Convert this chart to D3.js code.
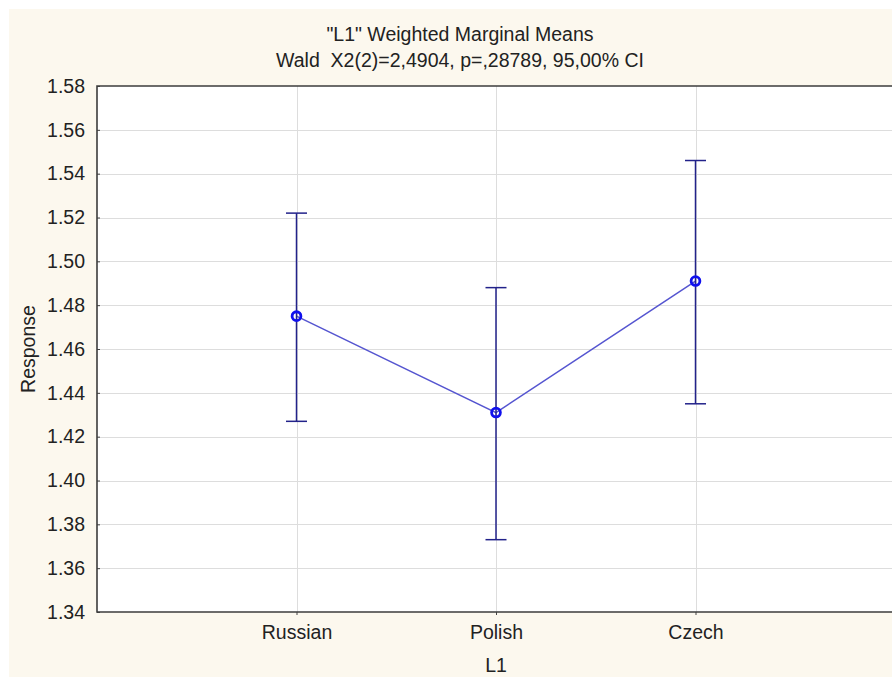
<!DOCTYPE html>
<html>
<head>
<meta charset="utf-8">
<script src="https://cdn.jsdelivr.net/npm/d3@7"></script>
<style>
  html, body { margin: 0; padding: 0; background: #ffffff; }
  svg { display: block; }
  text { font-family: "Liberation Sans", Arial, sans-serif; fill: #222; white-space: pre; }
</style>
</head>
<body>
<svg id="chart" width="892" height="677"></svg>
<script>
// Weighted marginal means of Response by L1, with 95% confidence limits
const categories = ["Russian", "Polish", "Czech"];
const means = [1.475, 1.431, 1.491];
const upperCI = [1.522, 1.488, 1.546];
const lowerCI = [1.427, 1.373, 1.435];
const yTicks = [1.34, 1.36, 1.38, 1.40, 1.42, 1.44, 1.46, 1.48, 1.50, 1.52, 1.54, 1.56, 1.58];

const titleText = "\"L1\" Weighted Marginal Means";
const subtitleText = "Wald  X2(2)=2,4904, p=,28789, 95,00% CI";
const xTitle = "L1";
const yTitle = "Response";

const W = 892, H = 677;
const plot = { left: 97, right: 895, top: 86, bottom: 612 };
const fontSize = 19.5;

const svg = d3.select("#chart");

// page background panel
svg.append("rect")
  .attr("x", 9).attr("y", 9)
  .attr("width", W - 9).attr("height", H - 9)
  .attr("fill", "#fcf8ee");

// plot area
svg.append("rect")
  .attr("x", plot.left).attr("y", plot.top)
  .attr("width", plot.right - plot.left).attr("height", plot.bottom - plot.top)
  .attr("fill", "#ffffff");

const x = d3.scalePoint()
  .domain(categories)
  .range([plot.left, plot.right])
  .padding(1);

const y = d3.scaleLinear()
  .domain([yTicks[0], yTicks[yTicks.length - 1]])
  .range([plot.bottom, plot.top]);

// grid lines
const grid = svg.append("g").attr("stroke", "#dddddd").attr("stroke-width", 1);
grid.selectAll("line.h")
  .data(yTicks.slice(1, -1))
  .join("line")
  .attr("class", "h")
  .attr("x1", plot.left).attr("x2", plot.right)
  .attr("y1", d => Math.round(y(d)) + 0.5).attr("y2", d => Math.round(y(d)) + 0.5);
grid.selectAll("line.v")
  .data(categories)
  .join("line")
  .attr("class", "v")
  .attr("y1", plot.top).attr("y2", plot.bottom)
  .attr("x1", d => Math.round(x(d)) + 0.5).attr("x2", d => Math.round(x(d)) + 0.5);

// axes
const yAxis = d3.axisLeft(y)
  .tickValues(yTicks)
  .tickFormat(d3.format(".2f"))
  .tickSize(-3)
  .tickPadding(12);
const gy = svg.append("g")
  .attr("transform", `translate(${plot.left},0)`)
  .call(yAxis);
gy.select(".domain").remove();
gy.selectAll(".tick line").attr("stroke", "#444");
gy.selectAll(".tick text")
  .attr("font-size", fontSize)
  .attr("font-family", "Liberation Sans, Arial, sans-serif")
  .attr("fill", "#222");

const xAxis = d3.axisBottom(x)
  .tickSize(3)
  .tickPadding(10);
const gx = svg.append("g")
  .attr("transform", `translate(0,${plot.bottom})`)
  .call(xAxis);
gx.select(".domain").remove();
gx.selectAll(".tick line").attr("stroke", "#444");
gx.selectAll(".tick text")
  .attr("font-size", fontSize)
  .attr("font-family", "Liberation Sans, Arial, sans-serif")
  .attr("fill", "#222");

// frame: left, top, bottom
svg.append("path")
  .attr("d", `M${plot.right},${plot.top}H${plot.left}V${plot.bottom}H${plot.right}`)
  .attr("fill", "none")
  .attr("stroke", "#3c3c3c")
  .attr("stroke-width", 1.6);

// connecting line between means
const points = categories.map((c, i) => ({ c, m: means[i], lo: lowerCI[i], hi: upperCI[i] }));
svg.append("path")
  .datum(points)
  .attr("d", d3.line().x(d => x(d.c)).y(d => y(d.m)))
  .attr("fill", "none")
  .attr("stroke", "#5555d0")
  .attr("stroke-width", 1.5);

// error bars
const eb = svg.append("g").attr("stroke", "#22228a").attr("stroke-width", 1.5).attr("fill", "none");
const capHalf = 10.5;
eb.selectAll("line.stem").data(points).join("line")
  .attr("class", "stem")
  .attr("x1", d => x(d.c)).attr("x2", d => x(d.c))
  .attr("y1", d => y(d.hi)).attr("y2", d => y(d.lo));
eb.selectAll("line.capHi").data(points).join("line")
  .attr("class", "capHi")
  .attr("x1", d => x(d.c) - capHalf).attr("x2", d => x(d.c) + capHalf)
  .attr("y1", d => y(d.hi)).attr("y2", d => y(d.hi));
eb.selectAll("line.capLo").data(points).join("line")
  .attr("class", "capLo")
  .attr("x1", d => x(d.c) - capHalf).attr("x2", d => x(d.c) + capHalf)
  .attr("y1", d => y(d.lo)).attr("y2", d => y(d.lo));

// mean markers
svg.append("g").selectAll("circle").data(points).join("circle")
  .attr("cx", d => x(d.c)).attr("cy", d => y(d.m))
  .attr("r", 4.4)
  .attr("fill", "none")
  .attr("stroke", "#1010ee")
  .attr("stroke-width", 2.8);

// titles
const cx = 460;
svg.append("text")
  .attr("x", cx).attr("y", 41)
  .attr("text-anchor", "middle")
  .attr("font-size", fontSize)
  .text(titleText);
svg.append("text")
  .attr("x", cx).attr("y", 67)
  .attr("text-anchor", "middle")
  .attr("font-size", fontSize)
  .text(subtitleText);

svg.append("text")
  .attr("x", x(categories[1])).attr("y", 672)
  .attr("text-anchor", "middle")
  .attr("font-size", fontSize)
  .text(xTitle);

svg.append("text")
  .attr("transform", `translate(35,${(plot.top + plot.bottom) / 2}) rotate(-90)`)
  .attr("text-anchor", "middle")
  .attr("font-size", fontSize)
  .text(yTitle);
</script>
</body>
</html>
